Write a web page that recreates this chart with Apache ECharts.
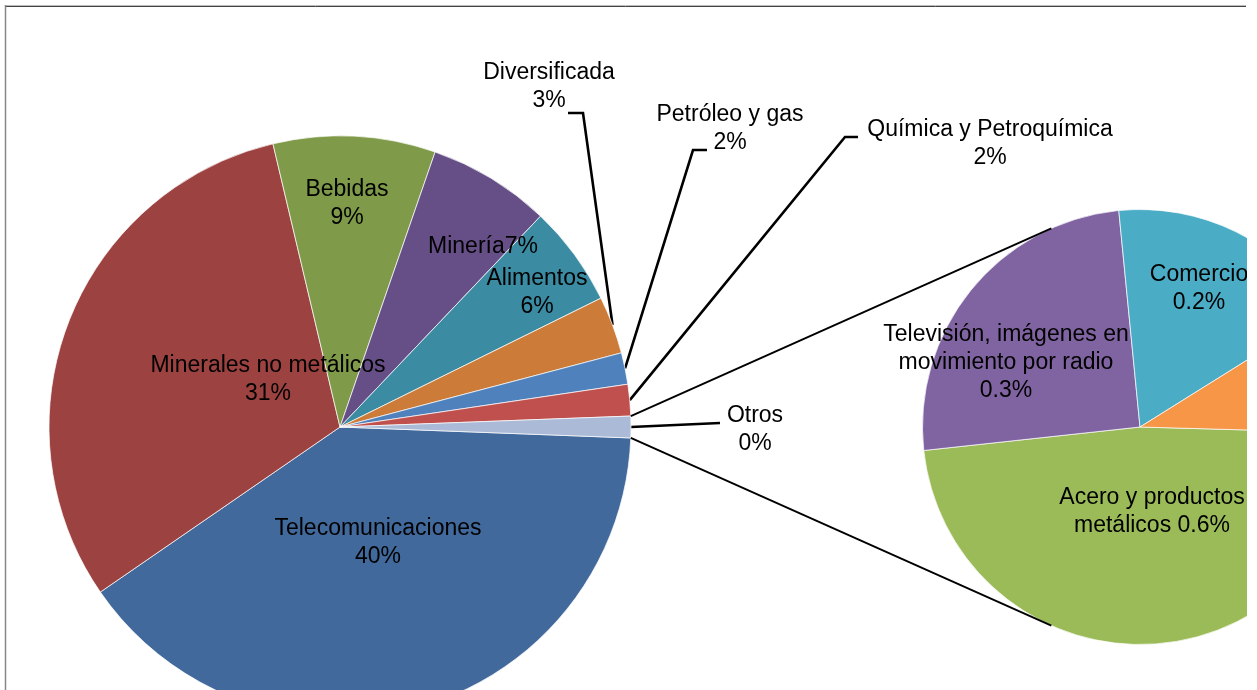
<!DOCTYPE html>
<html><head><meta charset="utf-8">
<script src="https://cdn.jsdelivr.net/npm/echarts@6/dist/echarts.min.js"></script>
<style>html,body{margin:0;padding:0;background:#fff}#c{width:1257px;height:690px}</style>
</head><body><div id="c"></div>
<script>
// ---- data ----
const mainNames = ['Telecomunicaciones', 'Minerales no metálicos', 'Bebidas', 'Minería', 'Alimentos', 'Diversificada', 'Petróleo y gas', 'Química y Petroquímica', 'Otros'];
const mainValues = [39.8, 30.9, 9.0, 6.8, 5.6, 3.2, 1.75, 1.75, 1.2];
const mainPctLabels = ['40%', '31%', '9%', '7%', '6%', '3%', '2%', '2%', '0%'];

const subNames = ['Acero y productos metálicos', 'Televisión, imágenes en movimiento por radio', 'Comercio', 'Servicios'];
const subValues = [0.574, 0.302, 0.212, 0.112];
const subPctLabels = ['0.6%', '0.3%', '0.2%', '0.1%'];

// ---- style / layout ----
const FONT = "'Liberation Sans', Arial, sans-serif";
const MAIN = { cx: 340, cy: 427, r: 291 };
const SUB = { cx: 1140, cy: 427, r: 217.5, startCompass: 91.6 };
const mainColors = ['#41699B', '#9C4240', '#7F9A48', '#664F86', '#3B8BA3', '#CC7B38', '#4F81BD', '#C0504D', '#AABAD7'];
const subColors = ['#9BBB59', '#8064A2', '#4BACC6', '#F79646'];
const mainLabelPos = [[378, 543], [268, 380], [347, 204], [483, 247], [537, 293], [549, 87], [730, 129], [990, 144], [755, 430]];
const mainOutside = [false, false, false, false, false, true, true, true, true];
const mainJoin = ['\n', '\n', '\n', '', '\n', '\n', '\n', '\n', '\n'];
const mainGuide = { 5: [[583, 113], [568, 113]], 6: [[693, 150], [707, 150]], 7: [[845, 137], [858, 137]], 8: [[720, 423]] };
const subLabelPos = [[1152, 512], [1006, 363], [1199, 289], [1300, 400]];
const subWordsFirstLine = [3, 3, 1, 1];
const subPctJoin = [' ', '\n', '\n', '\n'];

const mainTotal = mainValues.reduce((a, b) => a + b, 0);
const otherIdx = mainValues.length - 1;
const otherHalf = mainValues[otherIdx] / mainTotal * 360 / 2;
const mainStartCompass = 90 + otherHalf;

function compassPoint(c, r, deg) {
  const a = deg * Math.PI / 180;
  return [c.cx + r * Math.sin(a), c.cy - r * Math.cos(a)];
}
function midCompass(values, startCompass, idx) {
  const tot = values.reduce((a, b) => a + b, 0);
  let acc = 0;
  for (let i = 0; i < idx; i++) acc += values[i];
  return startCompass + (acc + values[idx] / 2) / tot * 360;
}
function tangent(P, C, upper) {
  const vx = P[0] - C.cx, vy = P[1] - C.cy;
  const d = Math.hypot(vx, vy);
  const base = Math.atan2(vy, vx);
  const off = Math.acos(C.r / d);
  const a1 = base + off, a2 = base - off;
  const p1 = [C.cx + C.r * Math.cos(a1), C.cy + C.r * Math.sin(a1)];
  const p2 = [C.cx + C.r * Math.cos(a2), C.cy + C.r * Math.sin(a2)];
  if (upper) return p1[1] < p2[1] ? p1 : p2;
  return p1[1] > p2[1] ? p1 : p2;
}
function subText(i) {
  const w = subNames[i].split(' ');
  const k = subWordsFirstLine[i];
  const first = w.slice(0, k).join(' ');
  const rest = w.slice(k).join(' ');
  return (rest ? first + '\n' + rest : first) + subPctJoin[i] + subPctLabels[i];
}

const otherTop = compassPoint(MAIN, MAIN.r, 90 - otherHalf);
const otherBot = compassPoint(MAIN, MAIN.r, 90 + otherHalf);
const tanTop = tangent(otherTop, SUB, true);
const tanBot = tangent(otherBot, SUB, false);

const labelBase = { color: '#000', fontSize: 23, fontFamily: FONT, lineHeight: 28 };
const guideStyle = { color: '#000', width: 2.6 };

const mainData = mainNames.map((n, i) => ({
  name: n,
  value: mainValues[i],
  itemStyle: { color: mainColors[i] },
  label: Object.assign({ show: true, position: mainOutside[i] ? 'outside' : 'inside',
    formatter: () => n + mainJoin[i] + mainPctLabels[i] }, labelBase),
  labelLine: { show: mainOutside[i], lineStyle: guideStyle }
}));

const subData = subNames.map((n, i) => ({
  name: n,
  value: subValues[i],
  itemStyle: { color: subColors[i] },
  label: Object.assign({ show: i < 3, position: 'inside', align: 'center',
    formatter: () => subText(i) }, labelBase),
  labelLine: { show: false }
}));

const chart = echarts.init(document.getElementById('c'), null, { renderer: 'canvas' });
chart.setOption({
  animation: false,
  backgroundColor: '#fff',
  series: [
    {
      type: 'pie',
      center: [MAIN.cx, MAIN.cy],
      radius: [0, MAIN.r],
      startAngle: 90 - mainStartCompass,
      clockwise: true,
      avoidLabelOverlap: false,
      silent: true,
      itemStyle: { borderColor: '#fff', borderWidth: 0.7 },
      labelLine: { lineStyle: guideStyle },
      emphasis: { disabled: true },
      data: mainData,
      labelLayout: function (p) {
        const i = p.dataIndex;
        const pos = mainLabelPos[i];
        const res = { x: pos[0], y: pos[1], align: 'center', verticalAlign: 'middle' };
        if (mainGuide[i]) {
          const edge = compassPoint(MAIN, MAIN.r, midCompass(mainValues, mainStartCompass, i));
          res.labelLinePoints = [edge].concat(mainGuide[i]);
        }
        return res;
      }
    },
    {
      type: 'pie',
      center: [SUB.cx, SUB.cy],
      radius: [0, SUB.r],
      startAngle: 90 - SUB.startCompass,
      clockwise: true,
      avoidLabelOverlap: false,
      silent: true,
      itemStyle: { borderColor: '#fff', borderWidth: 0.7 },
      emphasis: { disabled: true },
      data: subData,
      labelLayout: function (p) {
        const pos = subLabelPos[p.dataIndex];
        return { x: pos[0], y: pos[1], align: 'center', verticalAlign: 'middle' };
      }
    }
  ],
  graphic: [
    { type: 'line', z: 50, shape: { x1: otherTop[0], y1: otherTop[1], x2: tanTop[0], y2: tanTop[1] }, style: { stroke: '#000', lineWidth: 1.9 } },
    { type: 'line', z: 50, shape: { x1: otherBot[0], y1: otherBot[1], x2: tanBot[0], y2: tanBot[1] }, style: { stroke: '#000', lineWidth: 1.9 } },
    { type: 'rect', z: 100, shape: { x: 1247, y: 0, width: 20, height: 690 }, style: { fill: '#fff' } },
    { type: 'line', z: 110, shape: { x1: 5, y1: 5.5, x2: 1246, y2: 5.5 }, style: { stroke: '#bbb', lineWidth: 1 } },
    { type: 'line', z: 110, shape: { x1: 5, y1: 6.5, x2: 1246, y2: 6.5 }, style: { stroke: '#444', lineWidth: 1 } },
    { type: 'line', z: 110, shape: { x1: 5.5, y1: 5, x2: 5.5, y2: 690 }, style: { stroke: '#888', lineWidth: 1.5 } }
  ]
});
</script>
</body></html>
